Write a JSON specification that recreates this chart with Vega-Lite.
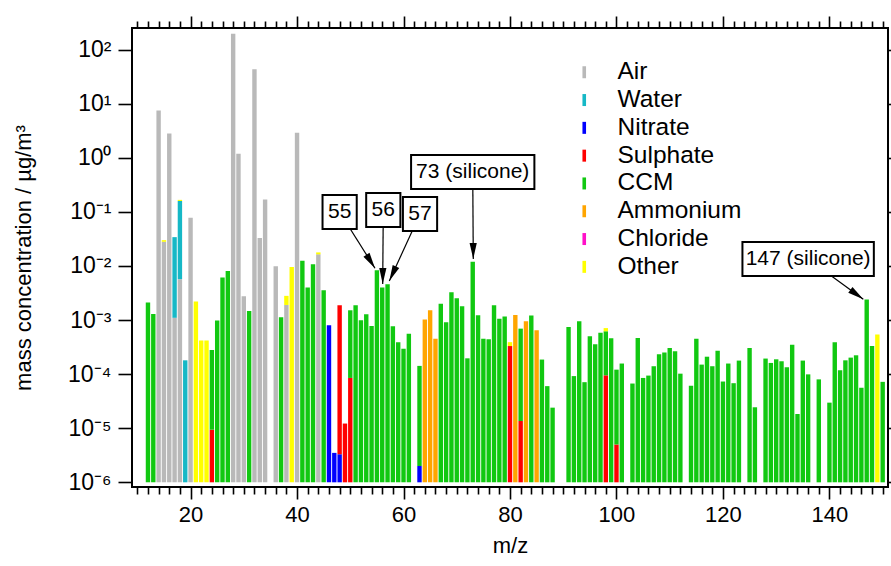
{
  "$schema": "https://vega.github.io/schema/vega-lite/v6.json",
  "width": 756,
  "height": 459,
  "autosize": {"type": "none"},
  "padding": {"left": 132, "top": 28, "right": 3, "bottom": 79},
  "background": "white",
  "config": {
    "view": {"stroke": "black", "strokeWidth": 2},
    "font": "Liberation Sans",
    "axis": {"labelFont": "Liberation Sans", "titleFont": "Liberation Sans", "labelColor": "black", "titleColor": "black", "tickColor": "black", "domain": false, "grid": false, "tickWidth": 1.6, "titleFontWeight": "normal"}
  },
  "resolve": {"axis": {"x": "independent", "y": "independent"}},
  "datasets": {
    "notes": [
      {"label": "55", "lx": 48.0, "ly": 0.0995, "mz": 54.64, "conc": 0.00906},
      {"label": "56", "lx": 56.2, "ly": 0.108, "mz": 56.09, "conc": 0.00463},
      {"label": "57", "lx": 63.1, "ly": 0.0914, "mz": 57.33, "conc": 0.00527},
      {"label": "73 (silicone)", "lx": 73.0, "ly": 0.545, "mz": 73.1, "conc": 0.0135},
      {"label": "147 (silicone)", "lx": 136.0, "ly": 0.0135, "mz": 146.36, "conc": 0.00242}
    ]
  },
  "layer": [
    {
      "data": {"values": [
        {"mz": 12, "species": "CCM", "value": 0.0021},
        {"mz": 13, "species": "CCM", "value": 0.0013},
        {"mz": 14, "species": "Air", "value": 7.5},
        {"mz": 15, "species": "Air", "value": 0.028},
        {"mz": 15, "species": "Other", "value": 0.002},
        {"mz": 16, "species": "Air", "value": 2.8},
        {"mz": 17, "species": "Air", "value": 0.0011},
        {"mz": 17, "species": "Water", "value": 0.033},
        {"mz": 18, "species": "Air", "value": 0.0057},
        {"mz": 18, "species": "Water", "value": 0.153},
        {"mz": 18, "species": "Other", "value": 0.008},
        {"mz": 19, "species": "Water", "value": 0.00018},
        {"mz": 20, "species": "Air", "value": 0.078},
        {"mz": 21, "species": "Other", "value": 0.0022},
        {"mz": 22, "species": "Other", "value": 0.00042},
        {"mz": 23, "species": "Other", "value": 0.00042},
        {"mz": 24, "species": "Sulphate", "value": 0.0000094},
        {"mz": 24, "species": "CCM", "value": 0.00027},
        {"mz": 25, "species": "CCM", "value": 0.00098},
        {"mz": 26, "species": "CCM", "value": 0.0061},
        {"mz": 27, "species": "CCM", "value": 0.0081},
        {"mz": 28, "species": "Air", "value": 197},
        {"mz": 29, "species": "Air", "value": 1.19},
        {"mz": 30, "species": "Air", "value": 0.00275},
        {"mz": 31, "species": "CCM", "value": 0.00147},
        {"mz": 32, "species": "Air", "value": 43.3},
        {"mz": 33, "species": "Air", "value": 0.033},
        {"mz": 34, "species": "Air", "value": 0.17},
        {"mz": 36, "species": "Air", "value": 0.0099},
        {"mz": 37, "species": "CCM", "value": 0.00113},
        {"mz": 38, "species": "Air", "value": 0.0019},
        {"mz": 38, "species": "Other", "value": 0.0009},
        {"mz": 39, "species": "Other", "value": 0.0096},
        {"mz": 40, "species": "Air", "value": 2.9},
        {"mz": 41, "species": "CCM", "value": 0.0125},
        {"mz": 42, "species": "CCM", "value": 0.004},
        {"mz": 43, "species": "CCM", "value": 0.0107},
        {"mz": 44, "species": "Air", "value": 0.0164},
        {"mz": 44, "species": "Other", "value": 0.0014},
        {"mz": 45, "species": "CCM", "value": 0.00355},
        {"mz": 46, "species": "Nitrate", "value": 0.0008},
        {"mz": 47, "species": "Nitrate", "value": 0.0000035},
        {"mz": 48, "species": "Nitrate", "value": 0.0000033},
        {"mz": 48, "species": "Sulphate", "value": 0.00188},
        {"mz": 49, "species": "Sulphate", "value": 0.0000122},
        {"mz": 50, "species": "Sulphate", "value": 0.000085},
        {"mz": 50, "species": "CCM", "value": 0.00143},
        {"mz": 51, "species": "CCM", "value": 0.00188},
        {"mz": 52, "species": "CCM", "value": 0.00099},
        {"mz": 53, "species": "CCM", "value": 0.00128},
        {"mz": 54, "species": "CCM", "value": 0.00078},
        {"mz": 55, "species": "CCM", "value": 0.0083},
        {"mz": 56, "species": "CCM", "value": 0.004},
        {"mz": 57, "species": "CCM", "value": 0.0046},
        {"mz": 58, "species": "CCM", "value": 0.00077},
        {"mz": 59, "species": "CCM", "value": 0.00039},
        {"mz": 60, "species": "CCM", "value": 0.000296},
        {"mz": 61, "species": "CCM", "value": 0.00056},
        {"mz": 63, "species": "Nitrate", "value": 0.000002},
        {"mz": 63, "species": "CCM", "value": 0.00014},
        {"mz": 64, "species": "Ammonium", "value": 0.00102},
        {"mz": 65, "species": "Ammonium", "value": 0.00151},
        {"mz": 66, "species": "Ammonium", "value": 0.00045},
        {"mz": 67, "species": "CCM", "value": 0.002},
        {"mz": 68, "species": "CCM", "value": 0.00091},
        {"mz": 69, "species": "CCM", "value": 0.00326},
        {"mz": 70, "species": "CCM", "value": 0.00252},
        {"mz": 71, "species": "CCM", "value": 0.0018},
        {"mz": 72, "species": "CCM", "value": 0.000196},
        {"mz": 73, "species": "CCM", "value": 0.0119},
        {"mz": 74, "species": "CCM", "value": 0.00122},
        {"mz": 75, "species": "CCM", "value": 0.00045},
        {"mz": 76, "species": "CCM", "value": 0.00044},
        {"mz": 77, "species": "CCM", "value": 0.00188},
        {"mz": 78, "species": "CCM", "value": 0.00106},
        {"mz": 79, "species": "CCM", "value": 0.00116},
        {"mz": 80, "species": "Sulphate", "value": 0.00033},
        {"mz": 80, "species": "Other", "value": 0.00006},
        {"mz": 81, "species": "Ammonium", "value": 0.00124},
        {"mz": 82, "species": "Sulphate", "value": 0.0000136},
        {"mz": 82, "species": "CCM", "value": 0.00068},
        {"mz": 83, "species": "Ammonium", "value": 0.00095},
        {"mz": 84, "species": "CCM", "value": 0.00121},
        {"mz": 85, "species": "Ammonium", "value": 0.00065},
        {"mz": 86, "species": "CCM", "value": 0.000186},
        {"mz": 87, "species": "CCM", "value": 0.00006},
        {"mz": 88, "species": "CCM", "value": 0.000024},
        {"mz": 91, "species": "CCM", "value": 0.000745},
        {"mz": 92, "species": "CCM", "value": 0.000092},
        {"mz": 93, "species": "CCM", "value": 0.00095},
        {"mz": 94, "species": "CCM", "value": 0.000071},
        {"mz": 95, "species": "CCM", "value": 0.0005},
        {"mz": 96, "species": "CCM", "value": 0.000356},
        {"mz": 97, "species": "CCM", "value": 0.000585},
        {"mz": 98, "species": "Sulphate", "value": 0.000095},
        {"mz": 98, "species": "CCM", "value": 0.000525},
        {"mz": 98, "species": "Other", "value": 0.00009},
        {"mz": 99, "species": "CCM", "value": 0.00046},
        {"mz": 100, "species": "Sulphate", "value": 0.000005},
        {"mz": 100, "species": "CCM", "value": 0.000116},
        {"mz": 101, "species": "CCM", "value": 0.000157},
        {"mz": 103, "species": "CCM", "value": 0.000067},
        {"mz": 104, "species": "CCM", "value": 0.000466},
        {"mz": 105, "species": "CCM", "value": 0.000085},
        {"mz": 106, "species": "CCM", "value": 0.000094},
        {"mz": 107, "species": "CCM", "value": 0.00014},
        {"mz": 108, "species": "CCM", "value": 0.000233},
        {"mz": 109, "species": "CCM", "value": 0.00025},
        {"mz": 110, "species": "CCM", "value": 0.000305},
        {"mz": 111, "species": "CCM", "value": 0.000264},
        {"mz": 112, "species": "CCM", "value": 0.000102},
        {"mz": 114, "species": "CCM", "value": 0.000061},
        {"mz": 115, "species": "CCM", "value": 0.00045},
        {"mz": 116, "species": "CCM", "value": 0.00015},
        {"mz": 117, "species": "CCM", "value": 0.00021},
        {"mz": 118, "species": "CCM", "value": 0.00014},
        {"mz": 119, "species": "CCM", "value": 0.000272},
        {"mz": 120, "species": "CCM", "value": 0.000073},
        {"mz": 121, "species": "CCM", "value": 0.000157},
        {"mz": 122, "species": "CCM", "value": 0.000068},
        {"mz": 123, "species": "CCM", "value": 0.000178},
        {"mz": 125, "species": "CCM", "value": 0.000305},
        {"mz": 126, "species": "CCM", "value": 0.0000244},
        {"mz": 128, "species": "CCM", "value": 0.000194},
        {"mz": 129, "species": "CCM", "value": 0.000161},
        {"mz": 130, "species": "CCM", "value": 0.000188},
        {"mz": 131, "species": "CCM", "value": 0.000173},
        {"mz": 132, "species": "CCM", "value": 0.000134},
        {"mz": 133, "species": "CCM", "value": 0.00035},
        {"mz": 134, "species": "CCM", "value": 0.0000183},
        {"mz": 135, "species": "CCM", "value": 0.000178},
        {"mz": 136, "species": "CCM", "value": 0.000099},
        {"mz": 138, "species": "CCM", "value": 0.00008},
        {"mz": 140, "species": "CCM", "value": 0.0000297},
        {"mz": 141, "species": "CCM", "value": 0.00039},
        {"mz": 142, "species": "CCM", "value": 0.000118},
        {"mz": 143, "species": "CCM", "value": 0.00018},
        {"mz": 144, "species": "CCM", "value": 0.000202},
        {"mz": 145, "species": "CCM", "value": 0.000223},
        {"mz": 146, "species": "CCM", "value": 0.000056},
        {"mz": 147, "species": "CCM", "value": 0.00239},
        {"mz": 148, "species": "CCM", "value": 0.00033},
        {"mz": 149, "species": "Other", "value": 0.00054},
        {"mz": 150, "species": "CCM", "value": 0.000072}
      ]},
      "transform": [
        {"calculate": "indexof(['Air','Water','Nitrate','Sulphate','CCM','Ammonium','Chloride','Other'], datum.species)", "as": "ord"},
        {"stack": "value", "groupby": ["mz"], "sort": [{"field": "ord", "order": "ascending"}], "as": ["v0", "v1"]},
        {"calculate": "max(datum.v0, 1e-6)", "as": "base"}
      ],
      "mark": {"type": "bar", "width": 4.4},
      "encoding": {
        "x": {"field": "mz", "type": "quantitative", "scale": {"domain": [9, 151], "nice": false, "zero": false, "padding": 0},
          "axis": {"orient": "bottom", "values": [20, 40, 60, 80, 100, 120, 140], "tickSize": 12, "labelFontSize": 22, "labelPadding": 5, "title": "m/z", "titleFontSize": 22, "titlePadding": 10}},
        "y": {"field": "v1", "type": "quantitative", "scale": {"type": "log", "domain": [8.19e-7, 250.8], "nice": false, "padding": 0},
          "axis": {"orient": "left", "values": [1e-6, 1e-5, 1e-4, 1e-3, 1e-2, 1e-1, 1, 10, 100], "tickSize": 14, "labelFontSize": 23, "labelPadding": 7,
            "labelExpr": "['10⁻⁶','10⁻⁵','10⁻⁴','10⁻³','10⁻²','10⁻¹','10⁰','10¹','10²'][round(log(datum.value)/LN10)+6]",
            "title": "mass concentration / µg/m³", "titleFontSize": 22, "titlePadding": 32}},
        "y2": {"field": "base"},
        "color": {"field": "species", "type": "nominal",
          "scale": {"domain": ["Air", "Water", "Nitrate", "Sulphate", "CCM", "Ammonium", "Chloride", "Other"],
                    "range": ["#b9b9b9", "#16b8c6", "#0000ff", "#ff0000", "#11c811", "#ffa500", "#ff10c8", "#ffff00"]},
          "legend": {"orient": "none", "legendX": 440, "legendY": 32, "title": null, "symbolType": "M-0.45,-1.5H0.45V1.5H-0.45Z", "symbolSize": 64, "labelFontSize": 24.5, "labelFont": "Liberation Sans", "labelColor": "black", "rowPadding": 2.8, "labelOffset": 21, "padding": 0, "symbolStrokeWidth": 0}}
      }
    },
    {
      "data": {"name": "notes"},
      "mark": {"type": "rule", "color": "black", "strokeWidth": 1.2},
      "encoding": {
        "x": {"field": "lx", "type": "quantitative", "scale": {"domain": [9, 151], "nice": false, "zero": false, "padding": 0},
          "axis": {"orient": "bottom", "values": [10, 12, 14, 16, 18, 22, 24, 26, 28, 30, 32, 34, 36, 38, 42, 44, 46, 48, 50, 52, 54, 56, 58, 62, 64, 66, 68, 70, 72, 74, 76, 78, 82, 84, 86, 88, 90, 92, 94, 96, 98, 102, 104, 106, 108, 110, 112, 114, 116, 118, 122, 124, 126, 128, 130, 132, 134, 136, 138, 142, 144, 146, 148, 150], "tickSize": 7, "labels": false, "title": null}},
        "y": {"field": "ly", "type": "quantitative", "scale": {"type": "log", "domain": [8.19e-7, 250.8], "nice": false, "padding": 0},
          "axis": {"orient": "right", "values": [1e-6, 1e-5, 1e-4, 1e-3, 1e-2, 1e-1, 1, 10, 100], "tickSize": 6, "labels": false, "title": null}},
        "x2": {"field": "mz"},
        "y2": {"field": "conc"}
      }
    },
    {
      "data": {"name": "notes"},
      "transform": [
        {"calculate": "(datum.mz - datum.lx) * 5.3239", "as": "dx"},
        {"calculate": "-(log(datum.conc) - log(datum.ly)) / LN10 / 0.018488", "as": "dy"},
        {"calculate": "atan2(-datum.dx, datum.dy) * 180 / PI", "as": "ang"}
      ],
      "mark": {"type": "point", "shape": "M0,0L-0.45,-2L0.45,-2Z", "filled": true, "color": "black", "opacity": 1, "size": 256, "strokeWidth": 0},
      "encoding": {
        "x": {"field": "mz", "type": "quantitative", "scale": {"domain": [9, 151], "nice": false, "zero": false, "padding": 0},
          "axis": {"orient": "top", "values": [20, 40, 60, 80, 100, 120, 140], "tickSize": 12, "labels": false, "title": null}},
        "y": {"field": "conc", "type": "quantitative", "scale": {"type": "log", "domain": [8.19e-7, 250.8], "nice": false, "padding": 0}, "axis": null},
        "angle": {"field": "ang", "type": "quantitative", "scale": null}
      }
    },
    {
      "data": {"name": "notes"},
      "transform": [
        {"calculate": "(8.1 * length(datum.label) + 18) / 2 / 5.3239", "as": "hw"},
        {"calculate": "datum.lx - datum.hw", "as": "bx1"},
        {"calculate": "datum.lx + datum.hw", "as": "bx2"},
        {"calculate": "datum.ly / 2.062", "as": "by1"},
        {"calculate": "datum.ly * 2.062", "as": "by2"}
      ],
      "mark": {"type": "rect", "fill": "white", "stroke": "black", "strokeWidth": 2},
      "encoding": {
        "x": {"field": "bx1", "type": "quantitative", "scale": {"domain": [9, 151], "nice": false, "zero": false, "padding": 0},
          "axis": {"orient": "top", "values": [10, 12, 14, 16, 18, 22, 24, 26, 28, 30, 32, 34, 36, 38, 42, 44, 46, 48, 50, 52, 54, 56, 58, 62, 64, 66, 68, 70, 72, 74, 76, 78, 82, 84, 86, 88, 90, 92, 94, 96, 98, 102, 104, 106, 108, 110, 112, 114, 116, 118, 122, 124, 126, 128, 130, 132, 134, 136, 138, 142, 144, 146, 148, 150], "tickSize": 7, "labels": false, "title": null}},
        "x2": {"field": "bx2"},
        "y": {"field": "by1", "type": "quantitative", "scale": {"type": "log", "domain": [8.19e-7, 250.8], "nice": false, "padding": 0}, "axis": null},
        "y2": {"field": "by2"}
      }
    },
    {
      "data": {"name": "notes"},
      "mark": {"type": "text", "fontSize": 21, "font": "Liberation Sans", "color": "black", "align": "center", "baseline": "middle"},
      "encoding": {
        "x": {"field": "lx", "type": "quantitative", "scale": {"domain": [9, 151], "nice": false, "zero": false, "padding": 0}, "axis": null},
        "y": {"field": "ly", "type": "quantitative", "scale": {"type": "log", "domain": [8.19e-7, 250.8], "nice": false, "padding": 0}, "axis": null},
        "text": {"field": "label"}
      }
    }
  ]
}
